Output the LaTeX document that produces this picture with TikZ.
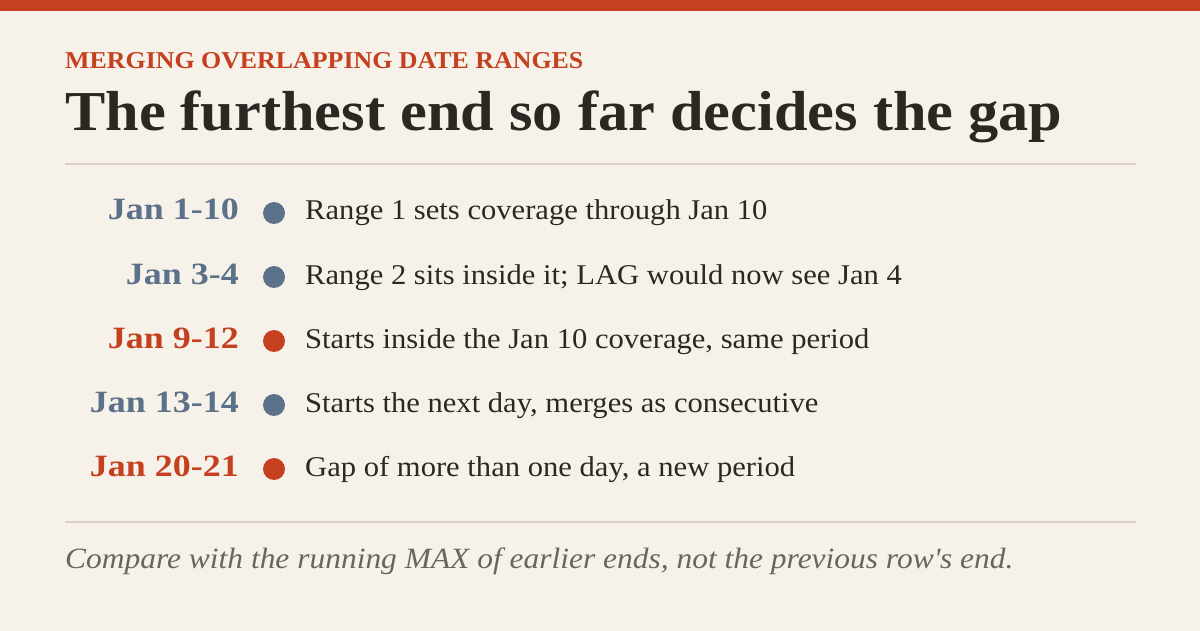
\documentclass[tikz,border=0pt]{standalone}
\usepackage{fontspec}
\setmainfont[FakeStretch=1.07]{Liberation Serif}
\newfontfamily\labelfont[FakeStretch=1.16]{Liberation Serif}
\definecolor{bg}{HTML}{F7F2E9}
\definecolor{accent}{HTML}{C4401E}
\definecolor{slate}{HTML}{5A7189}
\definecolor{ink}{HTML}{2B2824}
\definecolor{rule}{HTML}{D9CFC2}
\definecolor{note}{HTML}{6B655C}
\tikzset{
  kicker/.style={anchor=base west, inner sep=0, text=accent, font=\fontsize{24.2}{24}\selectfont\bfseries},
  headline/.style={anchor=base west, inner sep=0, text=ink, font=\fontsize{56.4}{56}\selectfont\bfseries},
  datelabel/.style={anchor=base east, inner sep=0, font=\labelfont\fontsize{31}{31}\selectfont\bfseries},
  desc/.style={anchor=base west, inner sep=0, text=ink, font=\fontsize{28.6}{28.6}\selectfont},
  dot/.style={circle, inner sep=0, minimum size=22pt},
  sep/.style={draw=rule, line width=2pt},
  footnote/.style={anchor=base west, inner sep=0, text=note, font=\fontsize{29.4}{29.4}\selectfont\itshape},
}
\begin{document}
\begin{tikzpicture}[x=1pt,y=-1pt]
\fill[bg] (0,0) rectangle (1200,631);
\useasboundingbox (0,0) rectangle (1200,631);
\fill[accent] (0,0) rectangle (1200,11);
\node[kicker] (kick) at (65,69) {MERGING OVERLAPPING DATE RANGES};
\node[headline] (head) at (65,131) {The furthest end so far decides the gap};
\coordinate (s1a) at (65,164); \coordinate (s1b) at (1136,164);
\draw[sep] (s1a) -- (s1b);
% rows
\foreach \i/\lab/\col/\txt in {
  1/Jan 1-10/slate/Range 1 sets coverage through Jan 10,
  2/Jan 3-4/slate/Range 2 sits inside it; LAG would now see Jan 4,
  3/Jan 9-12/accent/{Starts inside the Jan 10 coverage, same period},
  4/Jan 13-14/slate/{Starts the next day, merges as consecutive},
  5/Jan 20-21/accent/{Gap of more than one day, a new period}}{
  \pgfmathsetmacro{\yb}{220+64*(\i-1)}
  \node[datelabel, text=\col] (lab\i) at (239,\yb) {\lab};
  \node[dot, fill=\col] (dot\i) at (274,\yb-7) {};
  \node[desc] (desc\i) at (305,\yb) {\txt};
}
\coordinate (s2a) at (65,522); \coordinate (s2b) at (1136,522);
\draw[sep] (s2a) -- (s2b);
\node[footnote] (foot) at (65,568) {Compare with the running MAX of earlier ends, not the previous row\textquotesingle s end.};
\end{tikzpicture}
\end{document}
